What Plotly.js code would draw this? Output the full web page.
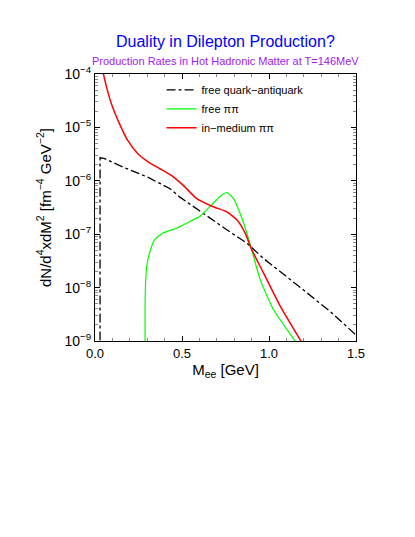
<!DOCTYPE html>
<html>
<head>
<meta charset="utf-8">
<script src="https://cdn.plot.ly/plotly-3.0.1.min.js"></script>
<style>
  body { margin: 0; background: #fff; }
  #chart { width: 415px; height: 537px; }
</style>
</head>
<body>
<div id="chart"></div>
<script>
// values (M in GeV, rate in fm^-4 GeV^-2)
var qqMass = [0.029, 0.029, 0.052, 0.158, 0.303, 0.429, 0.486, 0.583, 0.679, 0.776, 0.873, 0.969, 1.162, 1.355, 1.5];
var qqRate = [1e-10, 2.69e-6, 2.63e-6, 1.82e-6, 1.17e-6, 7.2e-7, 5.0e-7, 3.0e-7, 1.86e-7, 1.10e-7, 6.8e-8, 3.5e-8, 1.12e-8, 3.5e-9, 1.29e-9];

var freePiMass = [0.287, 0.288, 0.291, 0.297, 0.313, 0.342, 0.39, 0.467, 0.486, 0.583, 0.602, 0.679, 0.728, 0.757, 0.795, 0.834, 0.873, 0.90, 0.95, 1.027, 1.152, 1.17];
var freePiRate = [1e-10, 5.0e-9, 1.26e-8, 2.45e-8, 4.4e-8, 7.8e-8, 1.05e-7, 1.29e-7, 1.38e-7, 2.0e-7, 2.14e-7, 3.8e-7, 5.4e-7, 6.0e-7, 4.7e-7, 2.45e-7, 1.05e-7, 5.2e-8, 1.38e-8, 3.8e-9, 9.8e-10, 8e-10];

var medPiMass = [0.04, 0.048, 0.071, 0.10, 0.139, 0.187, 0.245, 0.303, 0.371, 0.448, 0.506, 0.583, 0.679, 0.757, 0.815, 0.863, 0.90, 0.969, 1.066, 1.185, 1.2];
var medPiRate = [1.41e-4, 1.02e-4, 5.0e-5, 2.45e-5, 1.20e-5, 5.75e-6, 3.24e-6, 2.29e-6, 1.70e-6, 1.20e-6, 8.3e-7, 4.7e-7, 3.27e-7, 2.63e-7, 1.86e-7, 1.05e-7, 5.2e-8, 1.86e-8, 4.4e-9, 9.8e-10, 8e-10];

var yMajor = [1e-9, 1e-8, 1e-7, 1e-6, 1e-5, 1e-4];
var yLabels = ['10<sup>\u22129</sup>', '10<sup>\u22128</sup>', '10<sup>\u22127</sup>', '10<sup>\u22126</sup>', '10<sup>\u22125</sup>', '10<sup>\u22124</sup>'];

var yMinor = [];
for (var e = -9; e < -4; e++) {
  for (var m = 2; m <= 9; m++) yMinor.push(m * Math.pow(10, e));
}

var font = 'Liberation Sans, Arial, sans-serif';

var qq = {
  x: qqMass, y: qqRate,
  name: 'free quark\u2212antiquark',
  type: 'scatter', mode: 'lines',
  line: {color: '#000000', width: 1.3, dash: 'dashdot'}
};
var freePi = {
  x: freePiMass, y: freePiRate,
  name: 'free \u03c0\u03c0',
  type: 'scatter', mode: 'lines',
  line: {color: '#00ff00', width: 1.2, shape: 'spline', smoothing: 0.5}
};
var medPi = {
  x: medPiMass, y: medPiRate,
  name: 'in\u2212medium \u03c0\u03c0',
  type: 'scatter', mode: 'lines',
  line: {color: '#ff0000', width: 1.5, shape: 'spline', smoothing: 0.5}
};

var layout = {
  width: 415, height: 537,
  margin: {l: 95, r: 59, t: 74, b: 196},
  paper_bgcolor: '#fff', plot_bgcolor: '#fff',
  font: {family: font, size: 13, color: '#000'},
  showlegend: true,
  legend: {
    x: 0.255, y: 0.995, xanchor: 'left', yanchor: 'top',
    bgcolor: 'rgba(0,0,0,0)', font: {size: 11},
    tracegroupgap: 0, itemwidth: 30
  },
  xaxis: {
    range: [0, 1.5],
    tickvals: [0, 0.5, 1.0, 1.5], tickformat: '.1f',
    ticks: 'inside', ticklen: 5, tickcolor: '#000',
    minor: {tickvals: [0.1, 0.2, 0.3, 0.4, 0.6, 0.7, 0.8, 0.9, 1.1, 1.2, 1.3, 1.4], ticks: 'inside', ticklen: 3, tickcolor: '#888'},
    showline: true, linecolor: '#000', linewidth: 1, mirror: 'allticks',
    showgrid: false, zeroline: false,
    tickfont: {size: 13},
    title: {text: 'M<sub>ee</sub> [GeV]', font: {size: 15}, standoff: 4}
  },
  yaxis: {
    type: 'log', range: [-9, -4],
    tickvals: yMajor, ticktext: yLabels,
    ticks: 'inside', ticklen: 5, tickcolor: '#000',
    minor: {tickvals: yMinor, ticks: 'inside', ticklen: 3, tickcolor: '#888'},
    showline: true, linecolor: '#000', linewidth: 1, mirror: 'allticks',
    showgrid: false, zeroline: false,
    tickfont: {size: 14},
    title: {text: 'dN/d<sup>4</sup>xdM<sup>2</sup> [fm<sup>\u22124</sup> GeV<sup>\u22122</sup>]', font: {size: 15}, standoff: 9}
  },
  annotations: [
    {text: 'Duality in Dilepton Production?', xref: 'paper', yref: 'paper',
     x: 0.5, y: 1.12, xanchor: 'center', yanchor: 'middle', showarrow: false,
     font: {size: 16, color: '#0000ff'}},
    {text: 'Production Rates in Hot Hadronic Matter at T=146MeV', xref: 'paper', yref: 'paper',
     x: 0.5, y: 1.049, xanchor: 'center', yanchor: 'middle', showarrow: false,
     font: {size: 11, color: '#a020f0'}}
  ]
};

Plotly.newPlot('chart', [qq, freePi, medPi], layout, {displayModeBar: false, staticPlot: true});
</script>
</body>
</html>
